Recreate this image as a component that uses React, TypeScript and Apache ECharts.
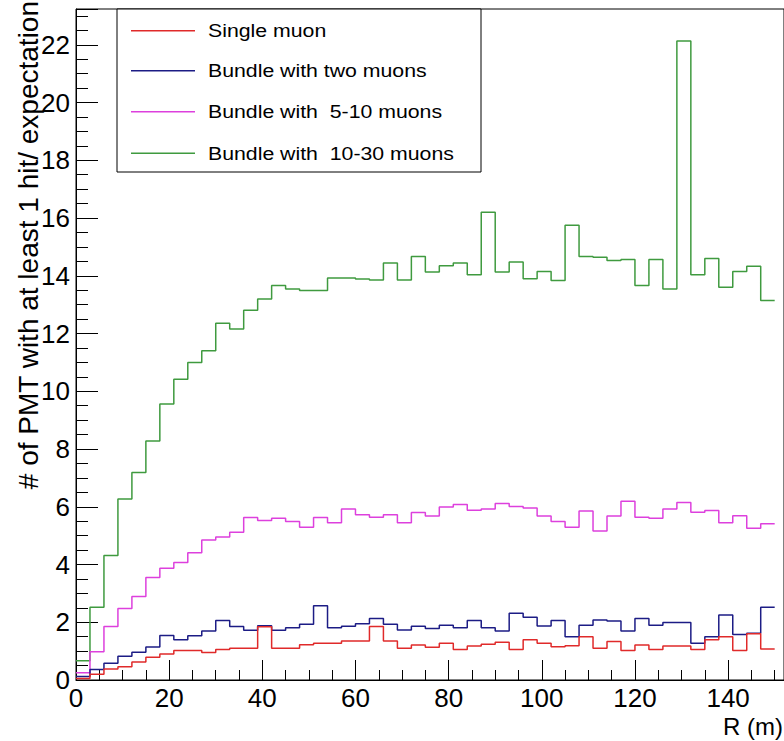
import React, { useEffect, useRef } from "react";
import * as echarts from "echarts";

const BIN_WIDTH = 3;
const SERIES_NAMES = ["Single muon", "Bundle with two muons", "Bundle with  5-10 muons", "Bundle with  10-30 muons"];
const SERIES_COLORS = ["#e02a2a", "#1c1c85", "#dd40dd", "#3f9a3f"];

const singleMuon = [
  0.05, 0.2, 0.38, 0.46, 0.62, 0.79, 0.9, 1.02, 1.02, 0.95,
  1.06, 1.1, 1.1, 1.84, 1.1, 1.1, 1.22, 1.27, 1.27, 1.35,
  1.35, 1.85, 1.35, 1.1, 1.21, 1.13, 1.27, 1.06, 1.18, 1.24,
  1.31, 1.06, 1.39, 1.27, 1.15, 1.19, 1.5, 1.1, 1.33, 1.02,
  1.21, 1.06, 1.18, 1.18, 1.06, 1.39, 1.5, 1.02, 1.6, 1.07,
];
const twoMuons = [
  0.12, 0.36, 0.58, 0.82, 0.96, 1.14, 1.54, 1.39, 1.53, 1.7,
  2.06, 1.85, 1.72, 1.88, 1.72, 1.81, 1.93, 2.57, 1.81, 1.86,
  1.95, 2.13, 1.93, 1.73, 1.86, 1.78, 1.9, 1.81, 2.06, 1.81,
  1.7, 2.31, 2.17, 1.87, 2.06, 1.5, 1.9, 2.08, 2.04, 1.7,
  2.13, 1.9, 1.99, 1.99, 1.27, 1.5, 2.25, 1.58, 1.62, 2.52,
];
const fiveToTen = [
  0.25, 0.98, 1.85, 2.48, 2.89, 3.55, 3.87, 4.07, 4.41, 4.85,
  4.95, 5.12, 5.63, 5.52, 5.6, 5.49, 5.29, 5.63, 5.45, 5.92,
  5.72, 5.64, 5.72, 5.45, 5.8, 5.68, 5.99, 6.08, 5.88, 5.92,
  6.11, 6.01, 5.96, 5.68, 5.49, 5.29, 5.85, 5.16, 5.68, 6.19,
  5.64, 5.6, 5.92, 6.15, 5.81, 5.87, 5.45, 5.69, 5.26, 5.41,
];
const tenToThirty = [
  0.67, 2.52, 4.31, 6.27, 7.19, 8.28, 9.56, 10.42, 11.0, 11.4,
  12.36, 12.16, 12.81, 13.2, 13.66, 13.54, 13.49, 13.49, 13.92, 13.92,
  13.89, 13.85, 14.44, 13.85, 14.67, 14.13, 14.35, 14.44, 14.04, 16.2,
  14.13, 14.48, 13.9, 14.15, 13.84, 15.75, 14.67, 14.64, 14.53, 14.56,
  13.66, 14.56, 13.54, 22.13, 14.04, 14.6, 13.6, 14.15, 14.33, 13.14,
];

const X_MIN = 0;
const X_MAX = 152;
const X_INTERVAL = 20;
const Y_MIN = 0;
const Y_MAX = 23.24;
const Y_INTERVAL = 2;
const X_TITLE = "R (m)";
const Y_TITLE = "# of PMT with at least 1 hit/ expectation";

const FONT = "'Liberation Sans', Arial, Helvetica, sans-serif";

function histPoints(values: number[]) {
  const pts: number[][] = values.map((v, i) => [i * BIN_WIDTH, v]);
  pts.push([values.length * BIN_WIDTH, values[values.length - 1]]);
  return pts;
}

export default function App() {
  const ref = useRef<HTMLDivElement>(null);

  useEffect(() => {
    if (!ref.current) return;
    const chart = echarts.init(ref.current, null, { renderer: "svg" });
    const allValues = [singleMuon, twoMuons, fiveToTen, tenToThirty];
    const drawOrder = [3, 2, 1, 0];

    const legendLeft = 117;
    const legendTop = 9;
    const rowY = [30.7, 70.7, 111.7, 153.3];
    const legendGraphics: any[] = [
      {
        type: "rect",
        shape: { x: legendLeft, y: legendTop, width: 364, height: 163 },
        style: { fill: "#fff", stroke: "#000", lineWidth: 1 },
        z: 100,
      },
    ];
    SERIES_NAMES.forEach((name, i) => {
      legendGraphics.push({
        type: "line",
        shape: { x1: 131, y1: rowY[i], x2: 195, y2: rowY[i] },
        style: { stroke: SERIES_COLORS[i], lineWidth: 1.5 },
        z: 101,
      });
      legendGraphics.push({
        type: "text",
        x: 208,
        y: rowY[i],
        scaleX: 1.12,
        style: {
          text: name,
          fill: "#000",
          font: `19px ${FONT}`,
          textAlign: "left",
          textVerticalAlign: "middle",
        },
        z: 101,
      });
    });

    chart.setOption({
      animation: false,
      backgroundColor: "#fff",
      grid: {
        left: 76,
        top: 9,
        bottom: 61,
        right: -12,
        show: true,
        borderColor: "#000",
        borderWidth: 1,
        backgroundColor: "transparent",
      },
      xAxis: {
        type: "value",
        min: X_MIN,
        max: X_MAX,
        interval: X_INTERVAL,
        axisLine: { show: true, onZero: false, lineStyle: { color: "#000", width: 1 } },
        axisTick: { show: true, inside: true, length: 20, lineStyle: { color: "#000", width: 1 } },
        minorTick: { show: true, splitNumber: 4, length: 10, lineStyle: { color: "#000", width: 1 } },
        splitLine: { show: false },
        axisLabel: {
          color: "#000",
          fontSize: 26,
          fontFamily: FONT,
          margin: 5,
          showMaxLabel: false,
        },
      },
      yAxis: {
        type: "value",
        min: Y_MIN,
        max: Y_MAX,
        interval: Y_INTERVAL,
        axisLine: { show: true, onZero: false, lineStyle: { color: "#000", width: 1 } },
        axisTick: { show: true, inside: true, length: 22, lineStyle: { color: "#000", width: 1 } },
        minorTick: { show: true, splitNumber: 4, length: 12, lineStyle: { color: "#000", width: 1 } },
        splitLine: { show: false },
        axisLabel: {
          color: "#000",
          fontSize: 26,
          fontFamily: FONT,
          margin: 6,
          showMaxLabel: false,
        },
      },
      series: drawOrder.map((i) => ({
        name: SERIES_NAMES[i],
        type: "line",
        step: "end",
        symbol: "none",
        showSymbol: false,
        data: histPoints(allValues[i]),
        lineStyle: { color: SERIES_COLORS[i], width: 1.5 },
        itemStyle: { color: SERIES_COLORS[i] },
        z: 3,
      })),
      graphic: [
        ...legendGraphics,
        {
          type: "text",
          x: 783,
          y: 726,
          style: {
            text: X_TITLE,
            fill: "#000",
            font: `24px ${FONT}`,
            textAlign: "right",
            textVerticalAlign: "middle",
          },
        },
        {
          type: "text",
          x: 28,
          y: 1,
          rotation: Math.PI / 2,
          style: {
            text: Y_TITLE,
            fill: "#000",
            font: `28px ${FONT}`,
            textAlign: "right",
            textVerticalAlign: "middle",
          },
        },
      ],
    });

    return () => {
      chart.dispose();
    };
  }, []);

  return (
    <div
      ref={ref}
      style={{ position: "fixed", left: 0, top: 0, width: 784, height: 741, background: "#fff" }}
    />
  );
}
